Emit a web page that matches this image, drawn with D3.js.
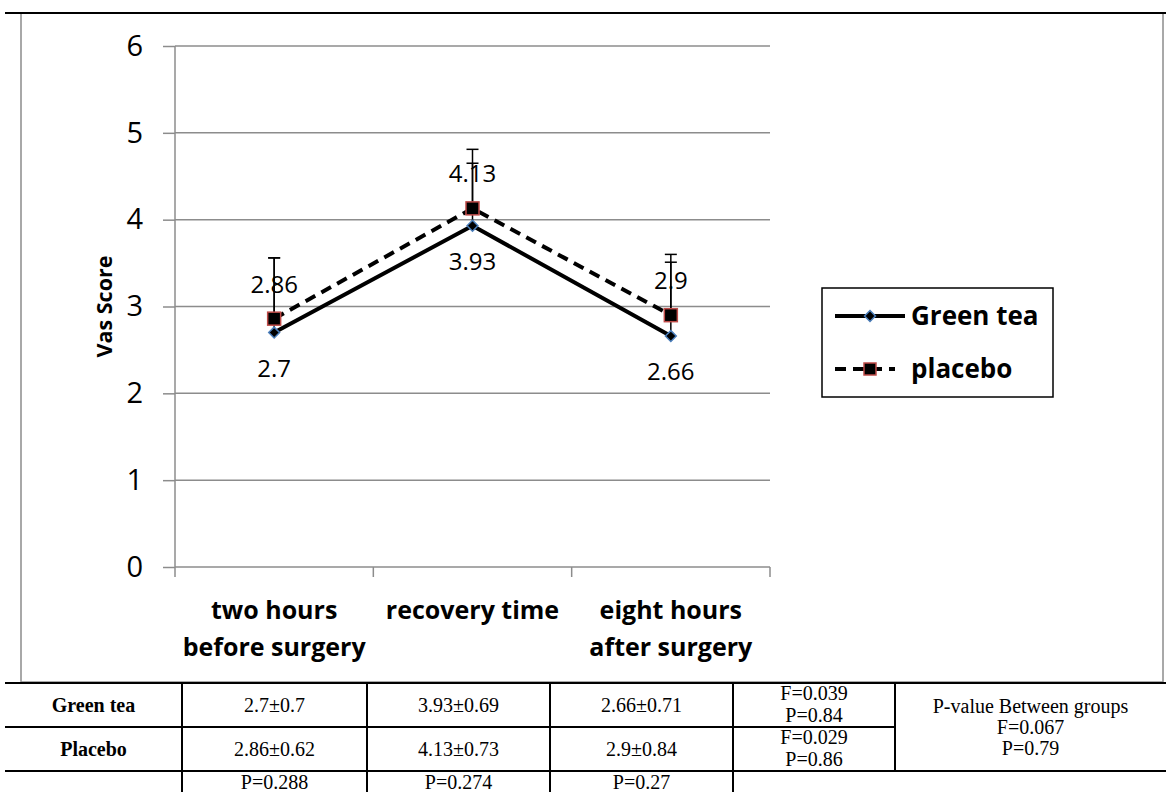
<!DOCTYPE html>
<html>
<head>
<meta charset="utf-8">
<script src="https://d3js.org/d3.v7.min.js"></script>
<style>
  body { margin: 0; background: #fff; }
  text { font-family: "Open Sans", Lato, sans-serif; }
</style>
</head>
<body>
<svg width="1166" height="792" id="mainsvg"></svg>
<script>
// data
const categories = [['two hours', 'before surgery'], ['recovery time'], ['eight hours', 'after surgery']];
const greenTea = [2.7, 3.93, 2.66];
const placebo = [2.86, 4.13, 2.9];
// upper ends of the error bars as drawn
const greenTeaErrTop = [3.56, 4.65, 3.51];
const placeboErrTop = [3.56, 4.81, 3.60];
const yTicks = [0, 1, 2, 3, 4, 5, 6];

// table below the chart
const rowNames = ['Green tea', 'Placebo', ''];
const greenTeaCells = ['2.7±0.7', '3.93±0.69', '2.66±0.71'];
const placeboCells = ['2.86±0.62', '4.13±0.73', '2.9±0.84'];
const pRowCells = ['P=0.288', 'P=0.274', 'P=0.27'];
const withinGroup = [['F=0.039', 'P=0.84'], ['F=0.029', 'P=0.86']];
const betweenGroups = ['P-value Between groups', 'F=0.067', 'P=0.79'];

const svg = d3.select('#mainsvg');

// chart frame
svg.append('rect').attr('x', 21).attr('y', 13).attr('width', 1142).attr('height', 669)
  .attr('fill', 'none').attr('stroke', '#8c8c8c').attr('stroke-width', 1.5);
svg.append('line').attr('x1', 5).attr('x2', 1166).attr('y1', 13).attr('y2', 13)
  .attr('stroke', '#000').attr('stroke-width', 2);

const margin = {left: 175, top: 46, right: 770, bottom: 567};

const x = d3.scaleBand().domain(d3.range(categories.length))
  .range([margin.left, margin.right]);
const y = d3.scaleLinear().domain([0, 6]).range([margin.bottom, margin.top]);
const cx = i => x(i) + x.bandwidth() / 2;

// gridlines
svg.append('g').selectAll('line').data(yTicks.slice(1)).join('line')
  .attr('x1', margin.left).attr('x2', margin.right)
  .attr('y1', d => y(d)).attr('y2', d => y(d))
  .attr('stroke', '#8c8c8c').attr('stroke-width', 1.5);

// y axis
const yAxis = svg.append('g').attr('transform', `translate(${margin.left},0)`)
  .call(d3.axisLeft(y).tickValues(yTicks).tickFormat(d3.format('d')).tickSize(12).tickPadding(20));
yAxis.selectAll('line, path').attr('stroke', '#8c8c8c').attr('stroke-width', 1.5);
yAxis.select('.domain').attr('d', `M0,${margin.top}V${margin.bottom}`);
yAxis.selectAll('text').attr('font-size', 29).attr('fill', '#000')
  .style('font-family', '"Open Sans", sans-serif');

// x axis with ticks at band edges
const xAxisG = svg.append('g').attr('transform', `translate(0,${margin.bottom})`);
xAxisG.append('line').attr('x1', margin.left).attr('x2', margin.right)
  .attr('stroke', '#8c8c8c').attr('stroke-width', 1.5);
xAxisG.selectAll('.tk').data(d3.range(categories.length + 1)).join('line')
  .attr('x1', d => margin.left + d * x.bandwidth())
  .attr('x2', d => margin.left + d * x.bandwidth())
  .attr('y1', 0).attr('y2', 10)
  .attr('stroke', '#8c8c8c').attr('stroke-width', 1.5);
categories.forEach((lines, i) => {
  const t = svg.append('text').attr('text-anchor', 'middle')
    .attr('font-size', 25).attr('font-weight', 'bold').attr('fill', '#000');
  lines.forEach((ln, j) => {
    t.append('tspan').attr('x', cx(i)).attr('y', 619 + j * 37).text(ln);
  });
});

// y axis title
svg.append('text').text('Vas Score')
  .attr('transform', `translate(112,${(margin.top + margin.bottom) / 2}) rotate(-90)`)
  .attr('text-anchor', 'middle').attr('font-size', 21.5).attr('font-weight', 'bold');

// error bars (upper only)
function errBars(vals, tops) {
  const g = svg.append('g').attr('stroke', '#000').attr('stroke-width', 1.5);
  vals.forEach((v, i) => {
    g.append('line').attr('x1', cx(i)).attr('x2', cx(i)).attr('y1', y(v)).attr('y2', y(tops[i]));
    g.append('line').attr('x1', cx(i) - 6).attr('x2', cx(i) + 6).attr('y1', y(tops[i])).attr('y2', y(tops[i]));
  });
}
errBars(greenTea, greenTeaErrTop);
errBars(placebo, placeboErrTop);

const line = d3.line().x((d, i) => cx(i)).y(d => y(d));

svg.append('path').datum(greenTea).attr('d', line)
  .attr('fill', 'none').attr('stroke', '#000').attr('stroke-width', 4);
svg.append('path').datum(placebo).attr('d', line)
  .attr('fill', 'none').attr('stroke', '#000').attr('stroke-width', 4)
  .attr('stroke-dasharray', '11,7');

// markers
const diamond = d3.symbol().type(d3.symbolDiamond2).size(75);
svg.append('g').selectAll('path').data(greenTea).join('path')
  .attr('d', diamond)
  .attr('transform', (d, i) => `translate(${cx(i)},${y(d)})`)
  .attr('fill', '#000').attr('stroke', '#4a7ebb').attr('stroke-width', 1.5);
svg.append('g').selectAll('rect').data(placebo).join('rect')
  .attr('x', (d, i) => cx(i) - 6.5).attr('y', d => y(d) - 6.5)
  .attr('width', 13).attr('height', 13)
  .attr('fill', '#000').attr('stroke', '#be4b48').attr('stroke-width', 1.5);

// data labels
svg.append('g').selectAll('text').data(placebo).join('text')
  .attr('x', (d, i) => cx(i)).attr('y', d => y(d) - 26)
  .attr('text-anchor', 'middle').attr('font-size', 24).text(d => d);
svg.append('g').selectAll('text').data(greenTea).join('text')
  .attr('x', (d, i) => cx(i)).attr('y', d => y(d) + 44)
  .attr('text-anchor', 'middle').attr('font-size', 24).text(d => d);

// legend
const leg = svg.append('g');
leg.append('rect').attr('x', 822).attr('y', 288).attr('width', 231).attr('height', 109)
  .attr('fill', '#fff').attr('stroke', '#000').attr('stroke-width', 1.5);
leg.append('line').attr('x1', 835).attr('x2', 905).attr('y1', 316).attr('y2', 316)
  .attr('stroke', '#000').attr('stroke-width', 4);
leg.append('path').attr('d', diamond).attr('transform', 'translate(870,316)')
  .attr('fill', '#000').attr('stroke', '#4a7ebb').attr('stroke-width', 1.5);
leg.append('line').attr('x1', 835).attr('x2', 895).attr('y1', 369).attr('y2', 369)
  .attr('stroke', '#000').attr('stroke-width', 4).attr('stroke-dasharray', '11,7');
leg.append('rect').attr('x', 864).attr('y', 363).attr('width', 12).attr('height', 12)
  .attr('fill', '#000').attr('stroke', '#be4b48').attr('stroke-width', 1.5);
leg.append('text').attr('x', 911).attr('y', 325).attr('font-size', 26)
  .attr('font-weight', 'bold').text('Green tea');
leg.append('text').attr('x', 911).attr('y', 378).attr('font-size', 26)
  .attr('font-weight', 'bold').text('placebo');

// table
const tbl = svg.append('g');
const serif = '"Liberation Serif", "Times New Roman", serif';
const colX = [5, 182, 367, 550, 733, 895, 1166];
const rowY = [683, 727, 771, 800];
const hl = (x1, x2, yy) => tbl.append('line').attr('x1', x1).attr('x2', x2).attr('y1', yy).attr('y2', yy)
  .attr('stroke', '#000').attr('stroke-width', 2);
const vl = (xx, y1, y2) => tbl.append('line').attr('x1', xx).attr('x2', xx).attr('y1', y1).attr('y2', y2)
  .attr('stroke', '#000').attr('stroke-width', 2);
hl(5, 1166, rowY[0]);
hl(5, 895, rowY[1]);
hl(5, 1166, rowY[2]);
[1, 2, 3, 4].forEach(c => vl(colX[c], rowY[0], 792));
vl(colX[5], rowY[0], rowY[2]);

const cell = (xx, yy, s, bold) => tbl.append('text').attr('x', xx).attr('y', yy)
  .attr('text-anchor', 'middle').style('font-family', serif).attr('font-size', 20)
  .attr('font-weight', bold ? 'bold' : 'normal').text(s);

const ccx = c => (colX[c] + colX[c + 1]) / 2;
rowNames.forEach((n, r) => cell(ccx(0), (rowY[r] + rowY[r + 1]) / 2 + 7, n, true));
[greenTeaCells, placeboCells].forEach((row, r) => {
  row.forEach((v, c) => cell(ccx(c + 1), (rowY[r] + rowY[r + 1]) / 2 + 7, v));
});
pRowCells.forEach((v, c) => cell(ccx(c + 1), rowY[2] + 18, v));
withinGroup.forEach((lines, r) => {
  lines.forEach((ln, j) => cell(ccx(4), rowY[r] + 17 + j * 22, ln));
});
betweenGroups.forEach((ln, j) => cell(ccx(5), 713 + j * 21, ln));
</script>
</body>
</html>
